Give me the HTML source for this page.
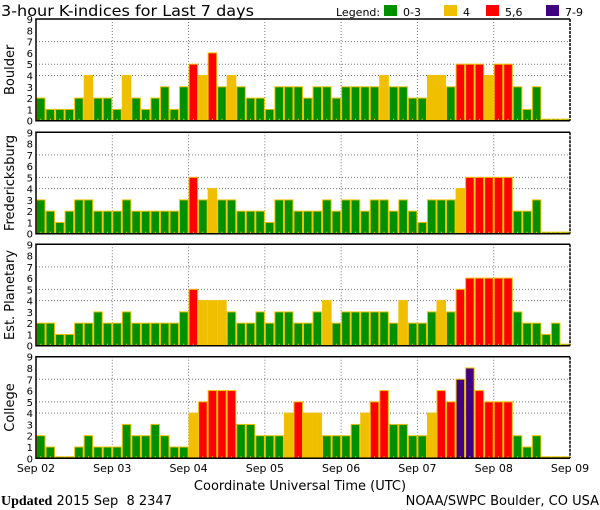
<!DOCTYPE html>
<html><head><meta charset="utf-8"><style>
body{margin:0;background:#fff}
svg{display:block}
text{font-family:"DejaVu Sans","Liberation Sans",sans-serif;fill:#000}
</style></head><body>
<svg id="s" width="600" height="510" xmlns="http://www.w3.org/2000/svg">
<text x="1" y="16" font-size="15" textLength="253" lengthAdjust="spacingAndGlyphs">3-hour K-indices for Last 7 days</text>
<text x="336" y="16" font-size="11">Legend:</text>
<rect x="384" y="5" width="13" height="11" fill="#009000"/><text x="403" y="16" font-size="11">0-3</text>
<rect x="444" y="5" width="13" height="11" fill="#f0c000"/><text x="463" y="16" font-size="11">4</text>
<rect x="486" y="5" width="13" height="11" fill="#ff0000"/><text x="505" y="16" font-size="11">5,6</text>
<rect x="546" y="5" width="13" height="11" fill="#400080"/><text x="565" y="16" font-size="11">7-9</text>
<text x="300" y="490" font-size="13" text-anchor="middle">Coordinate Universal Time (UTC)</text>
<text x="1" y="505" font-size="13"><tspan font-family="Liberation Serif" font-weight="bold" font-size="14">Updated</tspan> 2015 Sep &#160;8 2347</text>
<text x="599" y="505" font-size="13" text-anchor="end">NOAA/SWPC Boulder, CO USA</text>
</svg>
<script>
var s=document.getElementById('s'),NS='http://www.w3.org/2000/svg';
function el(t,a,txt){var e=document.createElementNS(NS,t);for(var k in a)e.setAttribute(k,a[k]);if(txt!=null)e.textContent=txt;s.appendChild(e);return e;}
var P=[
{n:'Boulder',T:19,Z:120.7,d:[2,1,1,1,2,4,2,2, 1,4,2,1,2,3,1,3, 5,4,6,3,4,3,2,2, 1,3,3,3,2,3,3,2, 3,3,3,3,4,3,3,2, 2,4,4,3,5,5,5,4, 5,5,3,1,3,0,0,0]},
{n:'Fredericksburg',T:132.3,Z:233.7,d:[3,2,1,2,3,3,2,2, 2,3,2,2,2,2,2,3, 5,3,4,3,3,2,2,2, 1,3,3,2,2,2,3,2, 3,3,2,3,3,2,3,2, 1,3,3,3,4,5,5,5, 5,5,2,2,3,0,0,0]},
{n:'Est. Planetary',T:244.3,Z:345.7,d:[2,2,1,1,2,2,3,2, 2,3,2,2,2,2,2,3, 5,4,4,4,3,2,2,3, 2,3,3,2,2,3,4,2, 3,3,3,3,3,2,4,2, 2,3,4,3,5,6,6,6, 6,6,3,2,2,1,2,0]},
{n:'College',T:356.7,Z:458.3,d:[2,1,0,0,1,2,1,1, 1,3,2,2,3,2,1,1, 4,5,6,6,6,3,3,2, 2,2,4,5,4,4,2,2, 2,3,4,5,6,3,3,2, 2,4,6,5,7,8,6,5, 5,5,2,1,2,0,0,0]}];
var X0=36,W=534,bw=W/56;
function col(v){return v<=3?'#009000':v==4?'#f0c000':v<=6?'#ff0000':'#400080';}
P.forEach(function(p,pi){
 var u=(p.Z-p.T)/9;
 [4,5,7].forEach(function(l){el('line',{x1:X0,x2:X0+W,y1:p.Z-l*u,y2:p.Z-l*u,stroke:'#777','stroke-dasharray':'1,2'});});
 for(var d=1;d<7;d++){var x=X0+d*W/7;el('line',{x1:x,x2:x,y1:p.T,y2:p.Z,stroke:'#777','stroke-dasharray':'1,2'});}
 p.d.forEach(function(v,i){
  var x=X0+i*bw,h=v==0?1.5:v*u;
  el('rect',{x:x+0.5,y:p.Z-h,width:bw-1,height:h,fill:col(v),stroke:'#f0c000','stroke-width':1});
  el('rect',{x:x+bw/2-0.5,y:p.Z-2,width:1,height:2,fill:'#f0c000'});
 });
 el('polyline',{points:(X0+W)+','+p.T+' '+X0+','+p.T+' '+X0+','+p.Z+' '+(X0+W)+','+p.Z,fill:'none',stroke:'#000','stroke-width':1.5});
 el('line',{x1:X0+W,x2:X0+W,y1:p.T,y2:p.Z,stroke:'#000','stroke-width':1.5,'stroke-dasharray':'3,1'});
 for(var k=0;k<=9;k++)el('text',{x:33,y:p.Z-k*u+4,'font-size':10,'text-anchor':'end'},k);
 var cy=(p.T+p.Z)/2;
 el('text',{x:0,y:0,'font-size':13,'text-anchor':'middle',transform:'translate(14,'+cy+') rotate(-90)'},p.n);
});
['Sep 02','Sep 03','Sep 04','Sep 05','Sep 06','Sep 07','Sep 08','Sep 09'].forEach(function(t,i){
 el('text',{x:X0+i*W/7,y:472,'font-size':11,'text-anchor':'middle'},t);});
</script>
</body></html>
